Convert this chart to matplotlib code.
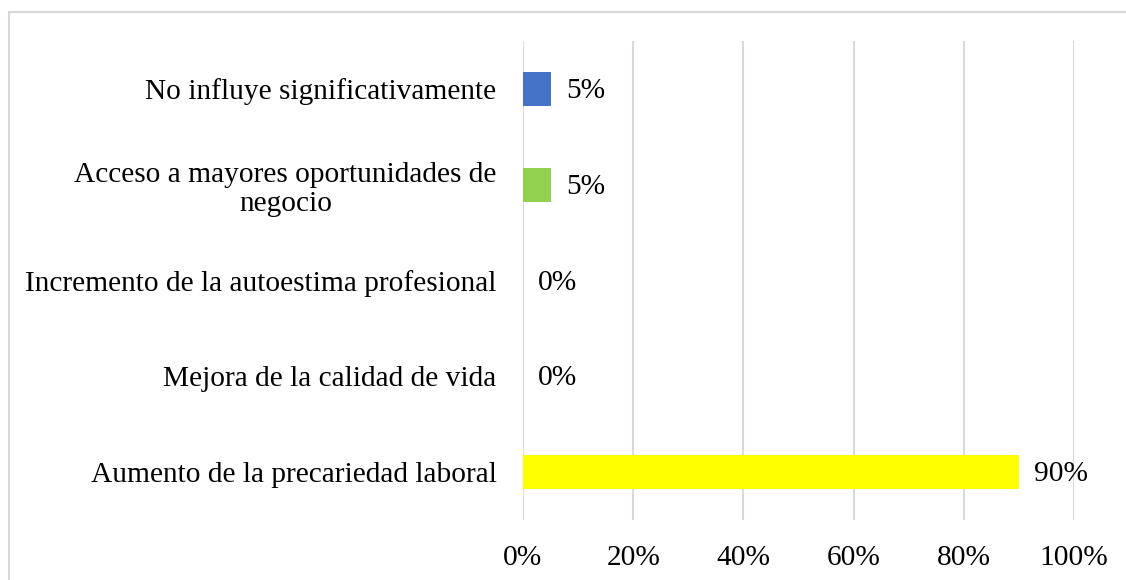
import matplotlib
matplotlib.use("Agg")
import matplotlib.pyplot as plt
from matplotlib.patches import Rectangle

categories = [
    "Aumento de la precariedad laboral",
    "Mejora de la calidad de vida",
    "Incremento de la autoestima profesional",
    "Acceso a mayores oportunidades de\nnegocio",
    "No influye significativamente",
]
values = [90, 0, 0, 5, 5]
colors = ["#FFFF00", "#4472C4", "#4472C4", "#92D050", "#4472C4"]
xticks = [0, 20, 40, 60, 80, 100]
xticklabels = ["0%", "20%", "40%", "60%", "80%", "100%"]

plt.rcParams['font.family'] = ['Liberation Serif', 'DejaVu Serif']

W, H = 1126, 580
FS = 21.2
fig = plt.figure(figsize=(W / 100, H / 100), dpi=100)
ax = fig.add_axes([523 / W, (H - 520) / H, (1074 - 523) / W, (520 - 41) / H])

y = list(range(len(categories)))
ax.barh(y, values, height=0.355, color=colors, zorder=3)
ax.set_xlim(0, 100)
ax.set_ylim(-0.5, len(categories) - 0.5)

for yi, v in zip(y, values):
    ax.annotate(f"{v}%", xy=(v, yi), xytext=(11, -1.5), textcoords="offset points",
                ha="left", va="center", fontsize=FS, color="#000000")

ax.set_yticks(y)
ax.set_yticklabels(categories, fontsize=FS, multialignment="center", linespacing=1.18)
ax.set_xticks(xticks)
ax.set_xticklabels(xticklabels, fontsize=FS)
ax.tick_params(axis="both", length=0)
ax.tick_params(axis="y", pad=19)
ax.tick_params(axis="x", pad=18)

for s in ax.spines.values():
    s.set_visible(False)
ax.grid(axis="x", color="#D9D9D9", linewidth=1.5, zorder=0)
ax.set_axisbelow(True)

fig.patches.append(Rectangle((8.5 / W, -0.1), 1.2, (H - 11.5) / H + 0.1,
                             transform=fig.transFigure, fill=False,
                             edgecolor="#D9D9D9", linewidth=1.5))

fig.savefig("out.png", dpi=100)
